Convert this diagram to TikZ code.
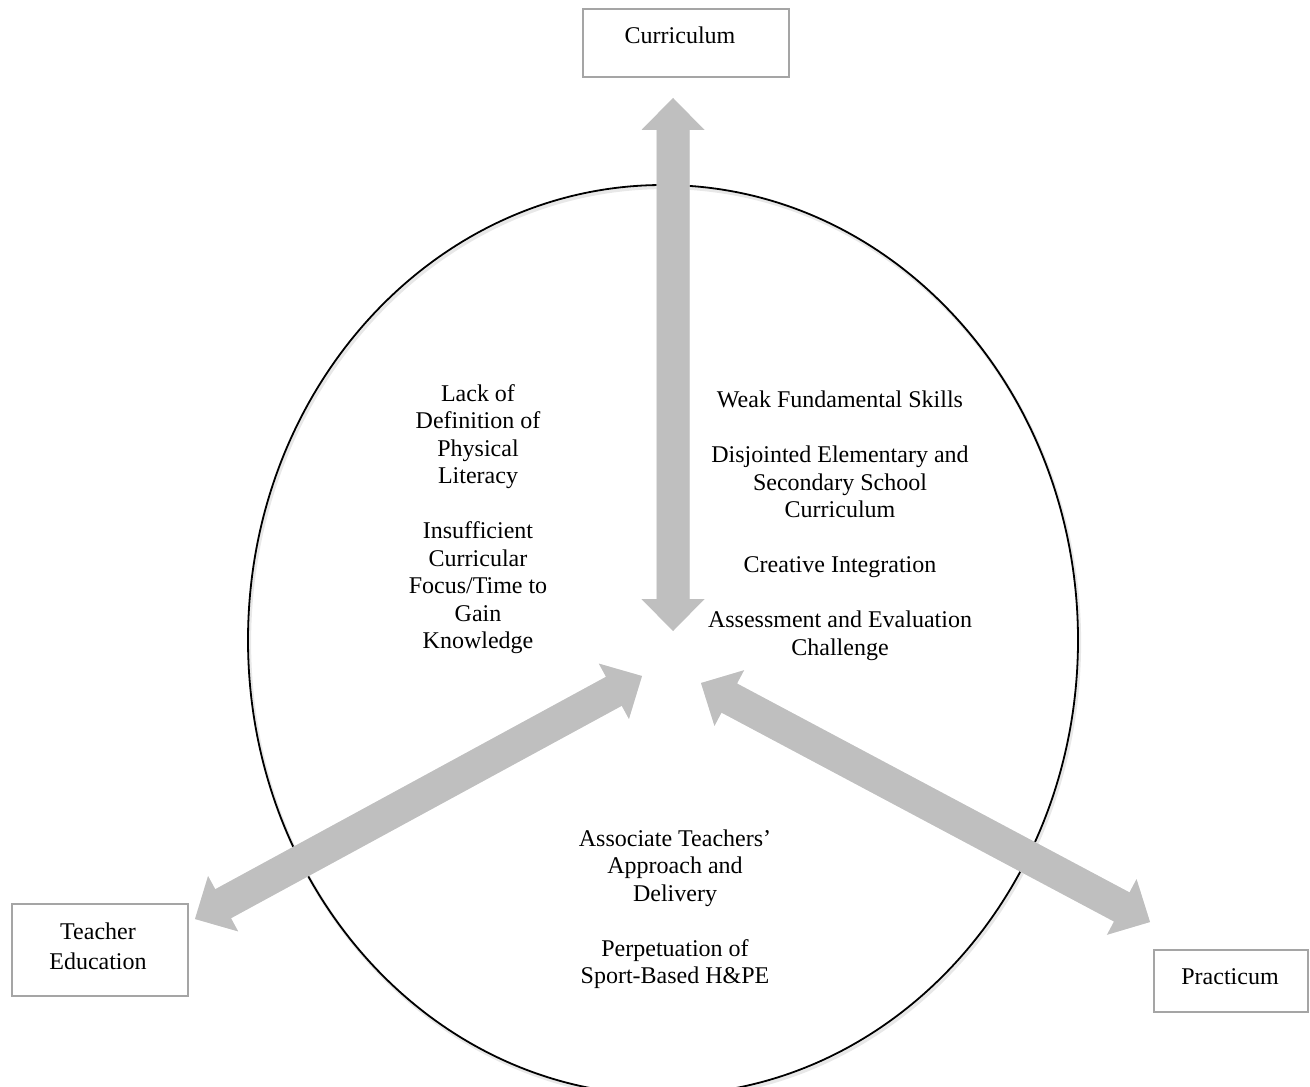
\documentclass[tikz,border=0pt]{standalone}
\usepackage{fontspec}
\setmainfont{Liberation Serif}
\usetikzlibrary{calc}
\definecolor{arrowgray}{RGB}{191,191,191}
\definecolor{boxgray}{RGB}{165,165,165}
\definecolor{shadowgray}{RGB}{232,232,232}
\newcommand{\dblarrowpath}[2]{%
  (#1) -- ($(#1)!22.45pt!44.55:(#2)$) -- ($(#1)!18pt!27.28:(#2)$)
  -- ($(#2)!18pt!-27.28:(#1)$) -- ($(#2)!22.45pt!-44.55:(#1)$)
  -- (#2) -- ($(#2)!22.45pt!44.55:(#1)$) -- ($(#2)!18pt!27.28:(#1)$)
  -- ($(#1)!18pt!-27.28:(#2)$) -- ($(#1)!22.45pt!-44.55:(#2)$) -- cycle}
\begin{document}
\begin{tikzpicture}[x=0.5pt,y=-0.5pt,
  every node/.style={font=\fontsize{12pt}{13.75pt}\selectfont, inner sep=0pt},
  labelbox/.style={draw=boxgray, line width=0.75pt, fill=white},
  txt/.style={align=center},
  arrowfill/.style={fill=arrowgray, draw=none},
  arrowshadow/.style={fill=shadowgray, draw=none}]
\useasboundingbox (0,0) rectangle (1310,1086);
\clip (0,0) rectangle (1310,1086);

% circle
\coordinate (ctr) at (663,640);
\draw[shadowgray, line width=1.6pt] ($(ctr)+(1.5,2.5)$) ellipse [x radius=415, y radius=455];
\draw[black, line width=0.9pt] (ctr) ellipse [x radius=415, y radius=455];

% arrow tips
\coordinate (cTop) at (673,98);
\coordinate (cBot) at (673,631);
\coordinate (lIn) at (642,676);
\coordinate (lOut) at (195,919);
\coordinate (rIn) at (701,683);
\coordinate (rOut) at (1150,922);

% shadows
\begin{scope}[shift={(2,3)}]
\fill[arrowshadow] \dblarrowpath{cTop}{cBot};
\fill[arrowshadow] \dblarrowpath{lIn}{lOut};
\fill[arrowshadow] \dblarrowpath{rIn}{rOut};
\end{scope}
% arrows
\fill[arrowfill] \dblarrowpath{cTop}{cBot};
\fill[arrowfill] \dblarrowpath{lIn}{lOut};
\fill[arrowfill] \dblarrowpath{rIn}{rOut};

% boxes
\node[labelbox, minimum width=103pt, minimum height=34pt] (curr) at (686,43) {};
\node (currlabel) at (680,35) {Curriculum};
\node[labelbox, minimum width=88pt, minimum height=46pt] (teach) at (100,950) {};
\node[txt, font=\fontsize{12pt}{15pt}\selectfont] (teachlabel) at (98,946) {Teacher\\Education};
\node[labelbox, minimum width=77pt, minimum height=31pt] (prac) at (1231,981) {};
\node (praclabel) at (1230,977) {Practicum};

% texts
\node[txt] (lefttext) at (478,519) {Lack of\\Definition of\\Physical\\Literacy\\[13.75pt]Insufficient\\Curricular\\Focus/Time to\\Gain\\Knowledge};
\node[txt] (righttext) at (840,526) {Weak Fundamental Skills\\[13.75pt]Disjointed Elementary and\\Secondary School\\Curriculum\\[13.75pt]Creative Integration\\[13.75pt]Assessment and Evaluation\\Challenge};
\node[txt] (bottomtext) at (675,909) {Associate Teachers’\\Approach and\\Delivery\\[13.75pt]Perpetuation of\\Sport-Based H\&PE};
\end{tikzpicture}
\end{document}
